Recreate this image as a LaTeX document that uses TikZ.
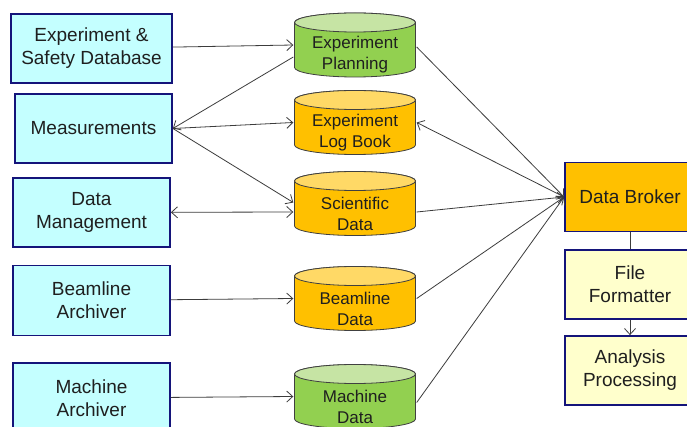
\documentclass[tikz,border=0pt]{standalone}
\usepackage{fontspec}
\setmainfont{Liberation Sans}
\usetikzlibrary{arrows.meta}
\definecolor{boxcyan}{HTML}{C4FFFF}
\definecolor{boxnavy}{HTML}{14147A}
\definecolor{storegreen}{HTML}{92D050}
\definecolor{storegreentop}{HTML}{C6E4A4}
\definecolor{storeorange}{HTML}{FFC000}
\definecolor{storeorangetop}{HTML}{FFD966}
\definecolor{paleyellow}{HTML}{FFFFCC}
\definecolor{linkgray}{HTML}{3C3C3C}
\tikzset{
  srcbox/.style={draw=boxnavy, line width=1.8pt, fill=boxcyan, text=black!88,
    minimum width=157pt, minimum height=69pt, inner sep=2pt, align=center,
    font=\fontsize{19}{23}\selectfont},
  storetext/.style={align=center, text=black!88, inner sep=0pt, yshift=-10pt,
    font=\fontsize{17}{21}\selectfont},
  % a drum drawn inside the node's box: body colour, top colour
  store/.style 2 args={minimum width=123pt, minimum height=66pt, inner sep=0pt,
    fill=white, path picture={
      \path[draw=black!75, line width=0.8pt, fill=#1]
        ([xshift=1pt, yshift=-10.5pt]path picture bounding box.north west)
        -- ([xshift=1pt, yshift=10.5pt]path picture bounding box.south west)
        arc[start angle=180, end angle=360, x radius=60.5pt, y radius=9.5pt]
        -- ([xshift=-1pt, yshift=-10.5pt]path picture bounding box.north east)
        arc[start angle=0, end angle=180, x radius=60.5pt, y radius=9.5pt]
        -- cycle;
      \path[draw=black!75, line width=0.8pt, fill=#2]
        ([yshift=-10.5pt]path picture bounding box.north)
        ellipse[x radius=60.5pt, y radius=9.5pt];
    }},
  greenstore/.style={store={storegreen}{storegreentop}},
  orangestore/.style={store={storeorange}{storeorangetop}},
  outbox/.style={srcbox, minimum width=130pt, fill=paleyellow},
  link/.style={draw=linkgray, line width=0.8pt, ->}
}
\begin{document}
\begin{tikzpicture}[x=1pt, y=-1pt, >={Straight Barb[length=6pt,width=11pt]}]
  \useasboundingbox (0,0) rectangle (687,427);
  \fill[white] (0,0) rectangle (687,427);
  % sources
  \node[srcbox, minimum width=161pt] (esd) at (91.5,48.5) {Experiment \&\\Safety Database};
  \node[srcbox] (meas) at (93.5,128.5) {Measurements};
  \node[srcbox] (dm) at (91.5,212.5) {Data\\Management};
  \node[srcbox, minimum height=70pt] (ba) at (91.5,300.5) {Beamline\\Archiver};
  \node[srcbox, minimum height=70pt] (ma) at (91.5,398) {Machine\\Archiver};
  % stores
  \node[greenstore, label={[storetext]center:Experiment\\Planning}] (plan) at (355,45) {};
  \node[orangestore, label={[storetext]center:Experiment\\Log Book}] (logb) at (355,122.5) {};
  \node[orangestore, label={[storetext]center:Scientific\\Data}] (sci) at (355,203.5) {};
  \node[orangestore, label={[storetext]center:Beamline\\Data}] (bd) at (355,298.5) {};
  \node[greenstore, label={[storetext]center:Machine\\Data}] (md) at (355,396.5) {};
  % broker and outputs
  \node[srcbox, minimum width=130pt, fill=storeorange] (broker) at (630,197) {Data Broker};
  \node[outbox] (ff) at (630,284.5) {File\\Formatter};
  \node[outbox] (ana) at (630,370.5) {Analysis\\Processing};

  \draw[link] (esd) -- (plan.west);
  \draw[link] ([yshift=-12pt]plan.west) -- (meas.east);
  \draw[link] (meas.east) -- (logb.west);
  \draw[link] (meas.east) -- ([yshift=1pt]sci.west);
  \draw[link, <->] (dm) -- ([yshift=-8.5pt]sci.west);
  \draw[link] (ba) -- (bd.west);
  \draw[link] (ma) -- (md.west);

  \draw[link] ([yshift=-2pt]plan.east) -- (broker.west);
  \draw[link] (broker.west) -- (logb.east);
  \draw[link] ([yshift=-8.5pt]sci.east) -- (broker.west);
  \draw[link] (bd.east) -- (broker.west);
  \draw[link] ([yshift=-6pt]md.east) -- (broker.west);
  \draw[linkgray, line width=0.8pt] (broker) -- (ff);
  \draw[link] (ff) -- (ana);
\end{tikzpicture}
\end{document}
